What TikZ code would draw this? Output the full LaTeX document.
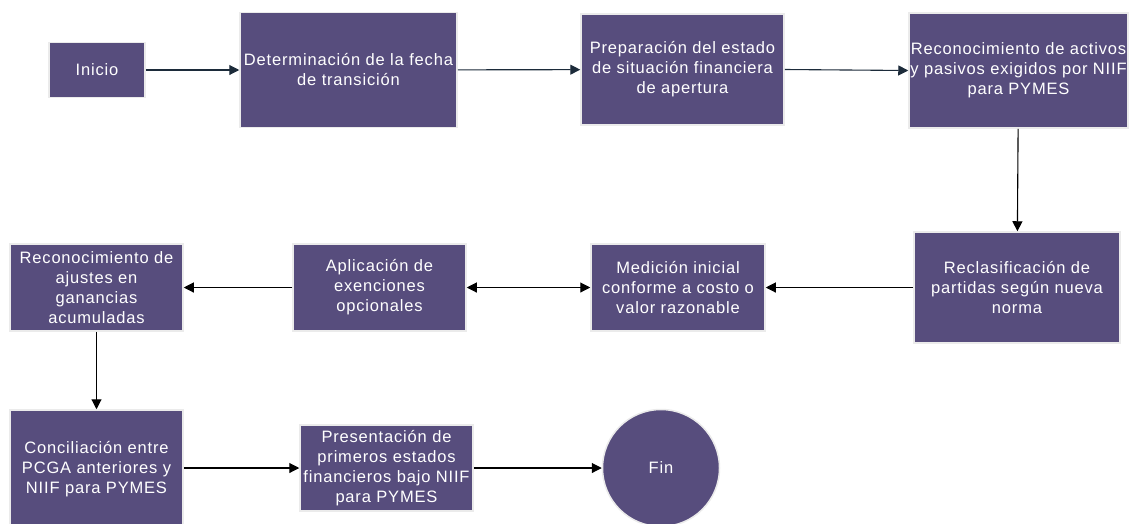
\documentclass[tikz,border=0pt]{standalone}
\usepackage{fontspec}
\setmainfont[LetterSpace=5]{Liberation Sans}
\usetikzlibrary{arrows.meta}
\definecolor{boxfill}{HTML}{574D7D}
\definecolor{boxedge}{HTML}{EBEBEB}
\definecolor{navy}{HTML}{1C2B3A}
\tikzset{
  stepbox/.style={draw=boxedge, line width=1.5pt, fill=boxfill, text=white, align=center,
    inner sep=0pt, font=\fontsize{16.5}{20}\selectfont},
  endcircle/.style={stepbox, circle},
  conn/.style={line width=1.1pt, -{Triangle[length=10pt,width=10pt]}},
  conn2/.style={line width=1.1pt, {Triangle[length=10pt,width=10pt]}-{Triangle[length=10pt,width=10pt]}},
}
\begin{document}
\begin{tikzpicture}[x=1pt,y=-1pt]
\useasboundingbox (0,0) rectangle (1132,523);
\clip (0,0) rectangle (1132,523);
\fill[white] (0,0) rectangle (1132,523);
\node[stepbox, minimum width=96pt, minimum height=55pt] (ini) at (97,70) {Inicio};
\node[stepbox, minimum width=217pt, minimum height=115pt] (det) at (348.5,70) {Determinación de la fecha\\de transición};
\node[stepbox, minimum width=203pt, minimum height=111pt] (pre) at (682.5,69.5) {Preparación del estado\\de situación financiera\\de apertura};
\node[stepbox, minimum width=219pt, minimum height=115pt] (rec) at (1018.5,70.5) {Reconocimiento de activos\\y pasivos exigidos por NIIF\\para PYMES};
\node[stepbox, minimum width=206pt, minimum height=111pt] (rcl) at (1017,287.5) {Reclasificación de\\partidas según nueva\\norma};
\node[stepbox, minimum width=174pt, minimum height=87pt] (med) at (678,287.5) {Medición inicial\\conforme a costo o\\valor razonable};
\node[stepbox, minimum width=173pt, minimum height=87pt] (apl) at (379.5,287.5) {Aplicación de\\exenciones\\opcionales};
\node[stepbox, minimum width=173pt, minimum height=87pt] (aju) at (96.5,287.5) {Reconocimiento de\\ajustes en\\ganancias\\acumuladas};
\node[stepbox, minimum width=173pt, minimum height=118pt] (con) at (96.5,469) {Conciliación entre\\PCGA anteriores y\\NIIF para PYMES};
\node[stepbox, minimum width=173pt, minimum height=86pt] (prs) at (386.5,468) {Presentación de\\primeros estados\\financieros bajo NIIF\\para PYMES};
\node[endcircle, minimum size=117pt] (fin) at (661,468) {Fin};
\draw[conn, navy] (ini) -- (det);
\draw[conn, navy] (det) -- (pre);
\draw[conn, navy] (pre.east) -- (rec.west);
\draw[conn] (rec) -- (rcl);
\draw[conn] (rcl) -- (med);
\draw[conn2] (apl) -- (med);
\draw[conn] (apl) -- (aju);
\draw[conn] (aju) -- (aju |- con.north);
\draw[conn] (con.east |- prs) -- (prs);
\draw[conn] (prs) -- (fin);
\end{tikzpicture}
\end{document}
